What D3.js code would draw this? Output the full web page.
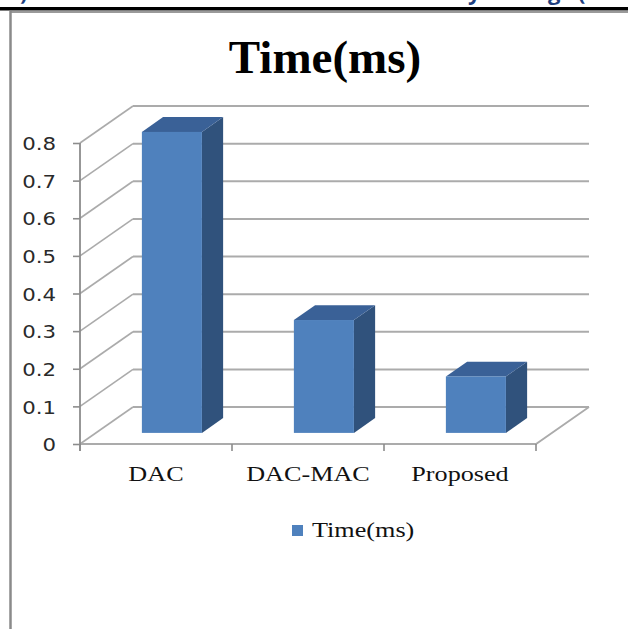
<!DOCTYPE html>
<html>
<head>
<meta charset="utf-8">
<script src="https://cdn.jsdelivr.net/npm/d3@7"></script>
<style>
  html, body { margin: 0; padding: 0; background: #fff; }
  svg { display: block; }
  .serif { font-family: "Liberation Serif", "Times New Roman", Times, serif; }
</style>
</head>
<body>
<div id="chart"></div>
<script>
var categories = ["DAC", "DAC-MAC", "Proposed"];
var times = [0.8, 0.3, 0.15];
var yTicks = [0, 0.1, 0.2, 0.3, 0.4, 0.5, 0.6, 0.7, 0.8];
var seriesName = "Time(ms)";
var chartTitle = "Time(ms)";

var width = 628, height = 629;
var DX = 53, DY = -37;          // depth of the 3d box
var f0 = 0.3, f1 = 0.7;          // bar front / back as fraction of depth

var svg = d3.select("#chart").append("svg")
  .attr("width", width)
  .attr("height", height);

// cut off heading of the page above the figure (only descenders show)
var head = svg.append("g")
  .style("font-family", "'Open Sans', sans-serif")
  .style("font-weight", "bold")
  .style("font-size", "22px")
  .attr("fill", "#1f3f7f");
[[20, ")"], [468, "y"], [548, "g"], [578, "("]].forEach(function (d) {
  head.append("text").attr("x", d[0]).attr("y", 0).text(d[1]);
});

// frame
svg.append("line").attr("x1", 10).attr("x2", width).attr("y1", 12).attr("y2", 12)
  .attr("stroke", "#9a9a9a").attr("stroke-width", 2);
svg.append("line").attr("x1", 10.5).attr("x2", 10.5).attr("y1", 11).attr("y2", height)
  .attr("stroke", "#8a8a8a").attr("stroke-width", 2.5);
svg.append("rect").attr("x", 0).attr("y", 7).attr("width", width).attr("height", 3.5)
  .attr("fill", "#000");

var x = d3.scaleBand().domain(categories).range([80, 536]).padding(0);
var y = d3.scaleLinear().domain([0, 0.8]).range([444, 143]);

var g = svg.append("g");

// back wall gridlines
g.selectAll(".grid").data(yTicks).enter().append("line")
  .attr("x1", 80 + DX).attr("x2", 536 + DX)
  .attr("y1", function (d) { return y(d) + DY; })
  .attr("y2", function (d) { return y(d) + DY; })
  .attr("stroke", "#ababab").attr("stroke-width", 2);

// side wall diagonals
g.selectAll(".diag").data(yTicks).enter().append("line")
  .attr("x1", 80).attr("x2", 80 + DX)
  .attr("y1", function (d) { return y(d); })
  .attr("y2", function (d) { return y(d) + DY; })
  .attr("stroke", "#ababab").attr("stroke-width", 1.6);

// floor
g.append("path")
  .attr("d", "M80," + y(0) + "L536," + y(0) + "L" + (536 + DX) + "," + (y(0) + DY))
  .attr("fill", "none").attr("stroke", "#ababab").attr("stroke-width", 1.8);

// bars
var barW = x.bandwidth() * 0.395;
var bars = g.selectAll(".bar").data(categories).enter().append("g");
function pts(a) { return a.map(function (p) { return p.join(","); }).join(" "); }
bars.each(function (c, i) {
  var x0 = x(c) + x.bandwidth() / 2 - barW / 2 + DX * f0,
      x1 = x0 + barW,
      yb = y(0) + DY * f0,
      yt = y(times[i]) + DY * f0,
      ddx = DX * (f1 - f0), ddy = DY * (f1 - f0);
  var b = d3.select(this);
  b.append("polygon")
    .attr("points", pts([[x1, yb], [x1, yt], [x1 + ddx, yt + ddy], [x1 + ddx, yb + ddy]]))
    .attr("fill", "#30527c");
  b.append("polygon")
    .attr("points", pts([[x0, yt], [x1, yt], [x1 + ddx, yt + ddy], [x0 + ddx, yt + ddy]]))
    .attr("fill", "#3a6197");
  b.append("rect")
    .attr("x", x0).attr("y", yt).attr("width", barW).attr("height", yb - yt)
    .attr("fill", "#4f81bd");
});

// y axis
var yAxis = svg.append("g")
  .attr("transform", "translate(80,0)")
  .call(d3.axisLeft(y).tickValues(yTicks).tickSize(7).tickPadding(0)
    .tickFormat(function (d) { return d === 0 ? "0" : d3.format(".1f")(d); }));
yAxis.select(".domain").remove();
yAxis.selectAll(".tick line").attr("stroke", "#8c8c8c").attr("stroke-width", 1.6);
yAxis.append("line").attr("x1", 0).attr("x2", 0).attr("y1", y(0.8)).attr("y2", y(0) + 7)
  .attr("stroke", "#8c8c8c").attr("stroke-width", 1.8);
yAxis.selectAll(".tick text")
  .attr("x", -24 / 1.15)
  .attr("dy", "0.36em")
  .attr("transform", "scale(1.15,1)")
  .style("font-family", "'DejaVu Sans', Verdana, sans-serif")
  .style("font-size", "18.5px")
  .attr("fill", "#2a2a2a");

// category ticks at band edges
var edges = categories.map(function (c) { return x(c); }).concat([x.range()[1]]);
svg.selectAll(".xtick").data(edges).enter().append("line")
  .attr("x1", function (d) { return d; }).attr("x2", function (d) { return d; })
  .attr("y1", y(0)).attr("y2", y(0) + 7)
  .attr("stroke", "#8c8c8c").attr("stroke-width", 1.6);

// category labels
svg.selectAll(".xlab").data(categories).enter().append("text")
  .attr("class", "serif")
  .attr("transform", function (c) {
    return "translate(" + (x(c) + x.bandwidth() / 2) + ",481) scale(1.19,1)";
  })
  .attr("text-anchor", "middle")
  .style("font-size", "22px")
  .attr("fill", "#111")
  .text(function (c) { return c; });

// title
svg.append("text")
  .attr("class", "serif")
  .attr("x", 325).attr("y", 73)
  .attr("text-anchor", "middle")
  .style("font-size", "47px")
  .style("font-weight", "bold")
  .attr("fill", "#000")
  .text(chartTitle);

// legend
svg.append("rect").attr("x", 292).attr("y", 525).attr("width", 11).attr("height", 11)
  .attr("fill", "#4f81bd");
svg.append("text")
  .attr("class", "serif")
  .attr("transform", "translate(312,537) scale(1.19,1)")
  .style("font-size", "22px")
  .attr("fill", "#111")
  .text(seriesName);
</script>
</body>
</html>
